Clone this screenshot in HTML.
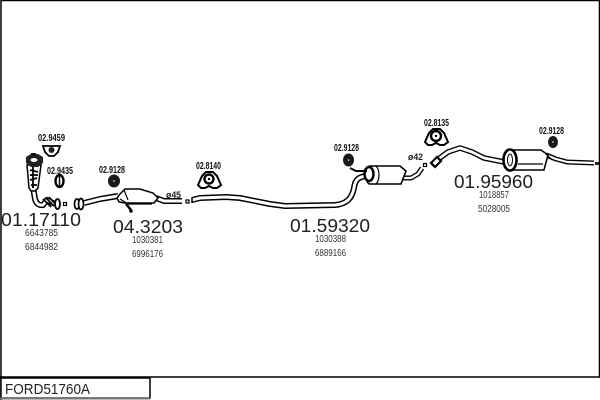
<!DOCTYPE html>
<html><head><meta charset="utf-8"><style>
html,body{margin:0;padding:0;background:#fff;width:600px;height:400px;overflow:hidden}
svg{display:block}
text{font-family:"Liberation Sans",sans-serif;fill:#222}
.b{font-size:18.5px;fill:#222}
.s{font-size:10px;fill:#333}
.r{font-size:10.5px;font-weight:bold;fill:#111}
.o{fill:none;stroke:#000;stroke-linejoin:round;stroke-linecap:butt}
.i{fill:none;stroke:#fff;stroke-linejoin:round;stroke-linecap:butt}
</style></head><body>
<svg width="600" height="400" viewBox="0 0 600 400" xmlns="http://www.w3.org/2000/svg">
<rect width="600" height="400" fill="#fff"/>
<path d="M1 400V.5H599.500V377H0" fill="none" stroke="#000" stroke-width="1.500"/>
<rect x="1" y="378" width="149" height="20" fill="#fff" stroke="#000" stroke-width="1.500"/>
<path d="M0 398.500H150" stroke="#777" stroke-width="2"/>
<text x="5" y="394" font-size="15" fill="#222" textLength="85" lengthAdjust="spacingAndGlyphs">FORD51760A</text>

<!-- part 1: catalyst and downpipe -->
<path class="o" stroke-width="6" d="M33 187L35 199Q37 206 43 205L47 200L55 204"/>
<path class="i" stroke-width="3" d="M33 187L35 199Q37 206 43 205L47 200L55 204"/>
<path d="M27 165L41 165L38 188L35 191H31L29 188Z" fill="#fff" stroke="#000" stroke-width="1.500"/>
<path d="M30 170L38 172M30 175H38M30 180L37 178M31 185H37M33 166V188" stroke="#000" stroke-width="1.800"/>
<path d="M26 157L31 154H38L43 157L43 163L38 167H31L26 163Z" fill="#222"/>
<ellipse cx="34" cy="160" rx="3.500" ry="2" fill="#fff"/>
<rect x="31" y="153" width="5" height="3" fill="#111"/>
<path d="M43 199L51 207M46 198L54 206M49 197L56 205" stroke="#000" stroke-width="1.600"/>
<ellipse cx="57.500" cy="204" rx="2.500" ry="5" fill="#fff" stroke="#000" stroke-width="1.800"/>
<rect x="63.500" y="202.500" width="3" height="3" fill="#fff" stroke="#000" stroke-width="1.200"/>
<ellipse cx="59.500" cy="181" rx="4" ry="6" fill="#fff" stroke="#000" stroke-width="2.400"/>
<path d="M59.500 176V186" stroke="#000" stroke-width="1.500"/>
<path d="M43 146H60L58 152L54 156H49L45 152Z" fill="#fff" stroke="#000" stroke-width="1.800"/>
<circle cx="51.500" cy="150" r="3" fill="#222"/>

<!-- part 2: front catalyst -->
<path class="o" stroke-width="6" d="M84 203L100 199L118 196"/>
<path class="i" stroke-width="3" d="M84 203L100 199L118 196"/>
<ellipse cx="77" cy="204" rx="2.500" ry="5" fill="#fff" stroke="#000" stroke-width="1.700"/>
<ellipse cx="81" cy="204" rx="2.500" ry="5.500" fill="#fff" stroke="#000" stroke-width="1.700"/>
<path class="o" stroke-width="6" d="M156 198L164 201H182"/>
<path class="i" stroke-width="3" d="M156 198L164 201H182"/>
<path d="M117 198L120 194L125 189H140L153 193L158 198L154 203H125L119 202Z" fill="#fff" stroke="#000" stroke-width="1.500"/>
<path d="M120 199L128 204H152M124 190L128 200" fill="none" stroke="#000" stroke-width="1.200"/>
<path d="M126 204L131 210" stroke="#000" stroke-width="2.500"/>
<circle cx="131" cy="211" r="1.800" fill="#000"/>
<ellipse cx="114" cy="181" rx="6" ry="6.500" fill="#1a1a1a"/>
<circle cx="114" cy="181" r=".8" fill="#fff"/>

<!-- part 3 pipe -->
<rect x="186" y="200" width="3" height="3" fill="#fff" stroke="#000" stroke-width="1.200"/>
<path class="o" stroke-width="6" d="M192 200L200 198L226 197L240 198L270 204L285 206L335 205C347 204 352 198 354 188C355 180 358 177 366 176"/>
<path class="i" stroke-width="3" d="M192 200L200 198L226 197L240 198L270 204L285 206L335 205C347 204 352 198 354 188C355 180 358 177 366 176"/>
<path d="M192 198V203" stroke="#000" stroke-width="1.500"/>
<path class="o" stroke-width="5" d="M402 178L411 178L418 174L422 168"/>
<path class="i" stroke-width="2.200" d="M402 178L411 178L418 174L422 168"/>
<path d="M370 166H400L406 171L401 184H370C365 184 365 166 370 166Z" fill="#fff" stroke="#000" stroke-width="1.600"/>
<path d="M376 166C380 170 380 180 376 184" fill="none" stroke="#000" stroke-width="1.200"/>
<ellipse cx="369" cy="174" rx="4.500" ry="7" fill="#fff" stroke="#000" stroke-width="2.400"/>
<path d="M350 168L356 171L367 171" fill="none" stroke="#000" stroke-width="2"/>
<ellipse cx="348.500" cy="160" rx="5.500" ry="6.500" fill="#1a1a1a"/>
<circle cx="348.500" cy="160" r=".8" fill="#fff"/>
<rect x="423.500" y="163.500" width="3" height="3" fill="#fff" stroke="#000" stroke-width="1.200"/>

<!-- part 4 -->
<path class="o" stroke-width="5.500" d="M437 160L448 152L460 148L472 152L484 158L504 162"/>
<path class="i" stroke-width="2.800" d="M437 160L448 152L460 148L472 152L484 158L504 162"/>
<path d="M431 163L437 157L441 161L435 167Z" fill="#fff" stroke="#000" stroke-width="2.200"/>
<path class="o" stroke-width="5" d="M546 155L556 159L567 162L594 163"/>
<path class="i" stroke-width="2.200" d="M546 155L556 159L567 162L594 163"/>
<path d="M510 150H541L548 155L544 170H510Z" fill="#fff" stroke="#000" stroke-width="1.600"/>
<path d="M518 164H543M546 154L552 160" fill="none" stroke="#000" stroke-width="1.200"/>
<ellipse cx="510" cy="160" rx="6.500" ry="10.500" fill="#fff" stroke="#000" stroke-width="2.600"/>
<ellipse cx="510" cy="160" rx="2.500" ry="6" fill="#fff" stroke="#000" stroke-width="1"/>
<rect x="595" y="162" width="4" height="3" fill="#222"/>
<ellipse cx="553" cy="142" rx="5" ry="6" fill="#1a1a1a"/>
<circle cx="553" cy="142" r=".8" fill="#fff"/>

<!-- hangers -->
<path d="M198 185L202 176L206 172H213L217 176L221 185L217 188H213L209 186L205 188H201Z" fill="#fff" stroke="#000" stroke-width="2"/>
<circle cx="209" cy="179" r="4.500" fill="#fff" stroke="#000" stroke-width="2.400"/>
<circle cx="209" cy="179" r="1.200" fill="#000"/>
<path d="M425 142L429 133L433 129H440L444 133L448 142L444 145H440L436 143L432 145H428Z" fill="#fff" stroke="#000" stroke-width="2"/>
<circle cx="436" cy="136" r="5" fill="#fff" stroke="#000" stroke-width="2.400"/>
<circle cx="436" cy="136" r="1.200" fill="#000"/>

<!-- large labels -->
<text class="b" x="1" y="226" textLength="80" lengthAdjust="spacingAndGlyphs">01.17110</text>
<text class="b" x="113" y="233" textLength="70" lengthAdjust="spacingAndGlyphs">04.3203</text>
<text class="b" x="290" y="232" textLength="80" lengthAdjust="spacingAndGlyphs">01.59320</text>
<text class="b" x="454" y="188" textLength="79" lengthAdjust="spacingAndGlyphs">01.95960</text>

<!-- small numbers -->
<text class="s" x="25" y="236" textLength="33" lengthAdjust="spacingAndGlyphs">6643785</text>
<text class="s" x="25" y="250" textLength="33" lengthAdjust="spacingAndGlyphs">6844982</text>
<text class="s" x="132" y="243" textLength="31" lengthAdjust="spacingAndGlyphs">1030381</text>
<text class="s" x="132" y="257" textLength="31" lengthAdjust="spacingAndGlyphs">6996176</text>
<text class="s" x="315" y="242" textLength="31" lengthAdjust="spacingAndGlyphs">1030388</text>
<text class="s" x="315" y="256" textLength="31" lengthAdjust="spacingAndGlyphs">6889166</text>
<text class="s" x="479" y="198" textLength="30" lengthAdjust="spacingAndGlyphs">1018857</text>
<text class="s" x="478" y="212" textLength="32" lengthAdjust="spacingAndGlyphs">5028005</text>

<!-- ref labels -->
<text class="r" x="38" y="141" textLength="27" lengthAdjust="spacingAndGlyphs">02.9459</text>
<text class="r" x="47" y="174" textLength="26" lengthAdjust="spacingAndGlyphs">02.9435</text>
<text class="r" x="99" y="173" textLength="26" lengthAdjust="spacingAndGlyphs">02.9128</text>
<text class="r" x="196" y="169" textLength="25" lengthAdjust="spacingAndGlyphs">02.8140</text>
<text class="r" x="334" y="151" textLength="25" lengthAdjust="spacingAndGlyphs">02.9128</text>
<text class="r" x="424" y="126" textLength="25" lengthAdjust="spacingAndGlyphs">02.8135</text>
<text class="r" x="539" y="134" textLength="25" lengthAdjust="spacingAndGlyphs">02.9128</text>
<text x="166" y="198" font-size="9" font-weight="bold" fill="#111" textLength="15" lengthAdjust="spacingAndGlyphs">ø45</text>
<text x="408" y="160" font-size="9" font-weight="bold" fill="#111" textLength="15" lengthAdjust="spacingAndGlyphs">ø42</text>
</svg>
</body></html>
